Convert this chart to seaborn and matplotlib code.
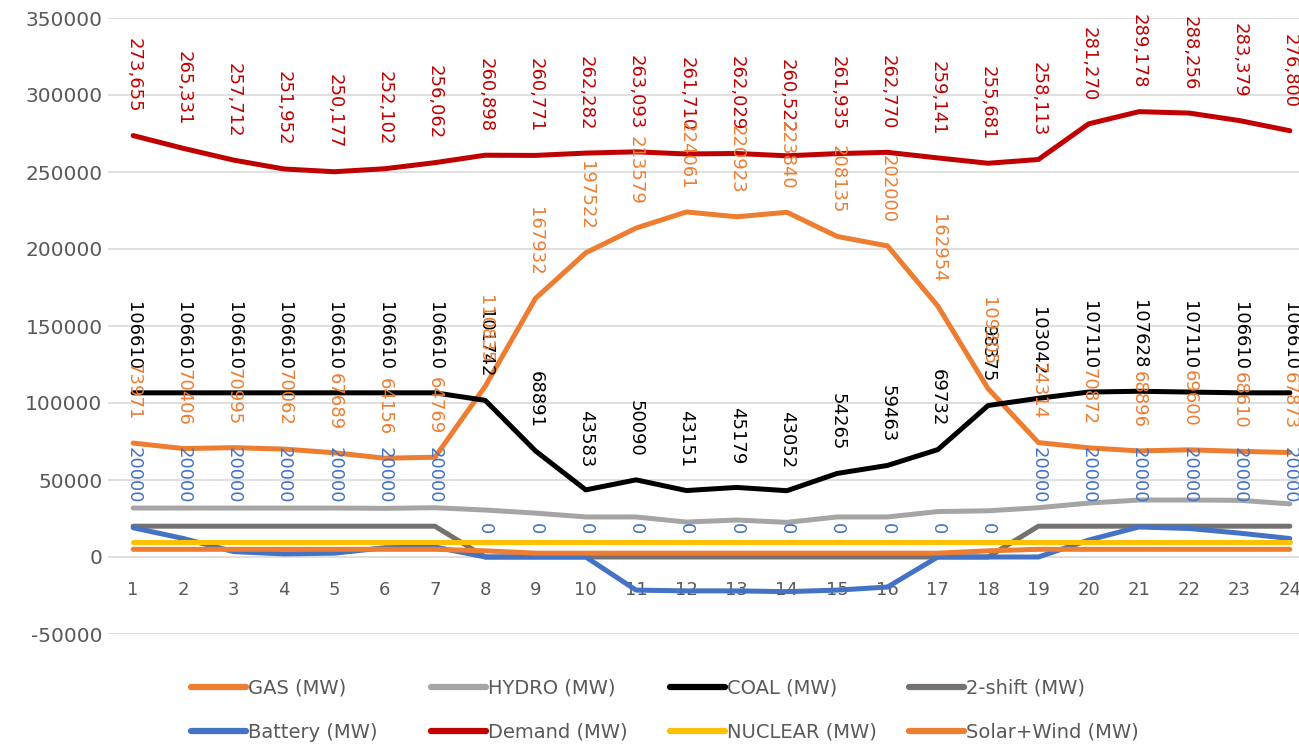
import matplotlib
matplotlib.use("Agg")
import matplotlib.pyplot as plt
import seaborn as sns
import numpy as np
from matplotlib.lines import Line2D

# Hourly dispatch data (MW)
hours = list(range(1, 25))

gas = [73971, 70406, 70995, 70062, 67689, 64156, 64769, 110835, 167932, 197522,
       213579, 224061, 220923, 223840, 208135, 202000, 162954, 109305, 74314, 70872,
       68896, 69600, 68610, 67873]
hydro = [31800, 31800, 31800, 31800, 31800, 31600, 32000, 30500, 28500, 26000,
         26000, 22700, 24000, 22500, 26000, 26000, 29500, 30000, 32000, 35000,
         37000, 37000, 36800, 34500]
coal = [106610, 106610, 106610, 106610, 106610, 106610, 106610, 101742, 68891, 43583,
        50090, 43151, 45179, 43052, 54265, 59463, 69732, 98375, 103042, 107110,
        107628, 107110, 106610, 106610]
two_shift = [20000] * 7 + [0] * 11 + [20000] * 6
battery = [19000, 12000, 3500, 2000, 2500, 6000, 6500, 0, 0, 0,
           -21500, -22000, -22000, -22500, -21500, -19500, 0, 0, 0, 11000,
           19500, 18500, 15500, 12000]
demand = [273655, 265331, 257712, 251952, 250177, 252102, 256062, 260898, 260771, 262282,
          263093, 261710, 262029, 260522, 261935, 262770, 259141, 255681, 258113, 281270,
          289178, 288256, 283379, 276800]
nuclear = [9500] * 24
solar_wind = [5000] * 7 + [4000] + [2500] * 9 + [4000] + [5000] * 6

y_ticks = list(range(-50000, 350001, 50000))

sns.set_theme(style="white")
plt.rcParams["font.family"] = ["DejaVu Sans"]

W, H = 1299, 746
fig = plt.figure(figsize=(W / 100, H / 100), dpi=100)
ax = fig.add_axes([108 / W, 1 - 634 / H, (1315 - 108) / W, (634 - 18) / H])

ORANGE = "#ED7D31"
series = [
    ("GAS (MW)", gas, ORANGE),
    ("HYDRO (MW)", hydro, "#A5A5A5"),
    ("COAL (MW)", coal, "#000000"),
    ("2-shift (MW)", two_shift, "#767171"),
    ("Battery (MW)", battery, "#4472C4"),
    ("Demand (MW)", demand, "#C00000"),
    ("NUCLEAR (MW)", nuclear, "#FFC000"),
    ("Solar+Wind (MW)", solar_wind, ORANGE),
]

lw = 3.6
for name, vals, col in series:
    sns.lineplot(x=hours, y=vals, color=col, lw=lw, ax=ax, legend=False,
                 solid_capstyle="round", solid_joinstyle="round")

# Rotated value labels above points
def add_labels(vals, color, fmt):
    for h, v in zip(hours, vals):
        ax.annotate(fmt(v), (h, v), xytext=(0, 16.5), textcoords="offset points",
                    rotation=-90, ha="center", va="bottom", fontsize=13,
                    color=color, annotation_clip=False)

add_labels(demand, "#C00000", lambda v: f"{v:,}")
add_labels(coal, "#000000", lambda v: f"{v}")
add_labels(gas, ORANGE, lambda v: f"{v}")
add_labels(two_shift, "#4472C4", lambda v: f"{v}")

ax.set_xlim(0.5, 24.5)
ax.set_ylim(-50000, 350000)
ax.set_yticks(y_ticks)
ax.set_yticklabels([str(t) for t in y_ticks])
ax.set_xticks(hours)
ax.set_xticklabels([str(h) for h in hours])
ax.grid(axis="y", color="#D9D9D9", lw=1.2)
ax.grid(axis="x", visible=False)
ax.set_axisbelow(True)
for s in ax.spines.values():
    s.set_visible(False)
ax.spines["bottom"].set_position(("data", 0))
ax.tick_params(axis="x", length=0, pad=17.5, labelsize=13, labelcolor="#595959")
ax.tick_params(axis="y", length=0, pad=4, labelsize=14.5, labelcolor="#595959")
ax.set_xlabel("")
ax.set_ylabel("")

# Legend: two rows of four evenly spaced entries
legend_x = [191, 431, 670, 909]
legend_y = [688, 732]
for i, (name, vals, col) in enumerate(series):
    r, c = divmod(i, 4)
    h = Line2D([], [], color=col, lw=4.5, solid_capstyle="round")
    leg = fig.legend([h], [name], loc="center left",
                     bbox_to_anchor=(legend_x[c] / W, 1 - legend_y[r] / H),
                     frameon=False, fontsize=14, handlelength=2.83,
                     handletextpad=0.1, borderpad=0, borderaxespad=0,
                     labelcolor="#595959")

fig.savefig("out.png", dpi=100)
